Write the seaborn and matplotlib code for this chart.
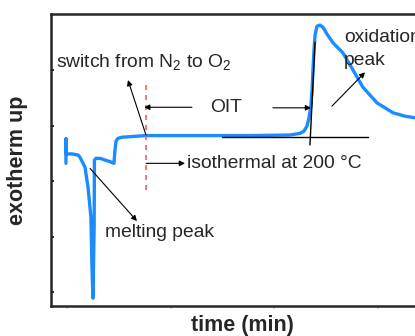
import matplotlib
matplotlib.use("Agg")
import matplotlib.pyplot as plt
import seaborn as sns
import pandas as pd

# DSC trace (time in min, heat flow in arbitrary units)
time_min = [-0.1, -0.1, -0.1, 0.48, 1.06, 1.25, 1.74, 2.03, 2.31, 2.41, 2.51,
            2.62, 2.65, 2.80, 3.18, 3.66, 4.15, 4.53, 4.63, 4.73, 4.92, 5.30,
            6.08, 7.62, 12.83, 17.65, 21.50, 22.47, 22.85, 23.14, 23.34, 23.53,
            23.63, 23.72, 23.82, 23.92, 24.11, 24.40, 24.69, 25.07, 25.65,
            26.61, 27.58, 28.54, 29.89, 31.44, 32.59, 33.56, 35.0]
heat_flow = [2.32, 2.76, 2.49, 2.49, 2.47, 2.43, 2.25, 1.89, 1.35, 0.45, -0.11,
             1.20, 2.38, 2.41, 2.41, 2.38, 2.35, 2.32, 2.56, 2.72, 2.77, 2.79,
             2.80, 2.82, 2.82, 2.82, 2.83, 2.86, 2.90, 2.99, 3.14, 3.37,
             3.64, 4.00, 4.36, 4.63, 4.79, 4.81, 4.77, 4.65, 4.49,
             4.31, 4.00, 3.69, 3.41, 3.23, 3.17, 3.14, 3.10]

switch_time = 7.62
onset_time = 23.53
baseline_level = 2.79

df = pd.DataFrame({"time": time_min, "heat": heat_flow})

sns.set_style("ticks")
plt.rcParams['font.family'] = ['Liberation Sans', 'DejaVu Sans']
plt.rcParams['mathtext.fontset'] = 'custom'
plt.rcParams['mathtext.rm'] = 'Liberation Sans'
plt.rcParams['mathtext.it'] = 'Liberation Sans'

fig = plt.figure(figsize=(4.15, 3.36), dpi=100)
ax = fig.add_axes([51/415, 30/336, 389/415, 292/336])

sns.lineplot(data=df, x="time", y="heat", sort=False, color="#1a8cff",
             lw=2.4, ax=ax, estimator=None)

# switch line and tangent construction
ax.plot([switch_time, switch_time], [1.84, 3.77], color="#ff5a5a", lw=1.2, ls=(0, (3, 3)))
ax.plot([23.43, 23.92], [2.65, 4.50], color="black", lw=1)
ax.plot([14.95, 29.03], [baseline_level, baseline_level], color="black", lw=1)

fs = 13.9
arrow = dict(arrowstyle="-|>", color="black", lw=0.8, mutation_scale=8, shrinkA=0, shrinkB=0)
ax.annotate("", xy=(5.88, 3.82), xytext=(switch_time, 2.83), arrowprops=arrow)
ax.text(-1.06, 4.14, "switch from N$_2$ to O$_2$", fontsize=fs, va="center", ha="left")
ax.annotate("", xy=(7.45, 3.33), xytext=(12.05, 3.33), arrowprops=arrow)
ax.annotate("", xy=(onset_time, 3.32), xytext=(19.86, 3.32), arrowprops=arrow)
ax.text(15.33, 3.33, "OIT", fontsize=fs, va="center", ha="center")
ax.annotate("", xy=(11.38, 2.32), xytext=(switch_time, 2.32), arrowprops=arrow)
ax.text(11.62, 2.32, "isothermal at 200 \u00b0C", fontsize=fs, va="center", ha="left")
ax.annotate("", xy=(6.75, 1.28), xytext=(2.22, 2.23), arrowprops=arrow)
ax.text(3.66, 1.08, "melting peak", fontsize=fs, va="center", ha="left")
ax.annotate("", xy=(28.74, 3.96), xytext=(25.55, 3.35), arrowprops=arrow)
ax.text(26.71, 4.74, "oxidation\npeak", fontsize=fs, va="top", ha="left", linespacing=1.45)

ax.set_xlim(-1.54, 35.97)
ax.set_ylim(-0.25, 5.01)
ax.set_xticks([0, 10, 20, 30])
ax.set_yticks([0, 1, 2, 3, 4])
ax.set_xticklabels([])
ax.set_yticklabels([])
ax.tick_params(axis="y", direction="in", length=2, width=1.2, color="black")
ax.tick_params(axis="x", direction="out", length=2, width=1.2, color="#cccccc")
for s in ax.spines.values():
    s.set_linewidth(1.8)
    s.set_visible(True)

ax.set_xlabel("time (min)", fontsize=15.5, fontweight="bold")
ax.set_ylabel("exotherm up", fontsize=15.5, fontweight="bold")
ax.xaxis.set_label_coords((242 - 51) / 389, -9 / 292)
ax.yaxis.set_label_coords(-23 / 389, (306 - 160) / 292)

fig.savefig("out.png", dpi=100)
